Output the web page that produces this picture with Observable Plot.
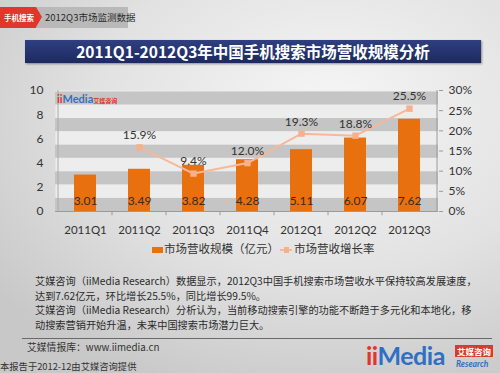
<!DOCTYPE html>
<html>
<head>
<meta charset="utf-8">
<script src="https://cdn.jsdelivr.net/npm/d3@7"></script>
<script src="https://cdn.jsdelivr.net/npm/@observablehq/plot@0.6"></script>
<style>
  html, body { margin: 0; padding: 0; }
  #wrap { position: relative; width: 500px; height: 373px; overflow: hidden;
    background: radial-gradient(ellipse 420px 300px at 330px 110px, #f6f6f6 0%, #e2e2e2 55%, #c8c8c8 100%);
    font-family: "Noto Sans CJK SC", sans-serif; }
  .abs { position: absolute; white-space: nowrap; }
  #tag { left: 0; top: 7px; width: 36px; height: 21px; background: #e0362c; color: #fff;
    font-size: 7.5px; font-weight: bold; line-height: 21px; padding-left: 4px; box-sizing: border-box; }
  #tagArrow { left: 36px; top: 7px; width: 0; height: 0; border-top: 10.5px solid transparent;
    border-bottom: 10.5px solid transparent; border-left: 6px solid #e0362c; }
  #tagBox { left: 36px; top: 7px; width: 92px; height: 21px; background: #b9b9b9; color: #2a2a2a;
    font-size: 9.5px; line-height: 21px; padding-left: 9px; box-sizing: border-box; }
  #title { left: 25px; top: 40px; width: 456px; height: 23px;
    background: linear-gradient(180deg, #2f3f80 0%, #1c2a5e 100%); color: #fff;
    font-size: 15.5px; font-weight: bold; line-height: 23px; text-align: center;
    box-shadow: 1px 1px 2px rgba(0,0,0,0.4); }
  #chart { left: 0; top: 0; }
  .leg { font-size: 11.5px; color: #333; top: 240px; line-height: 16px; }
  #para { left: 35px; top: 274px; font-size: 10.2px; line-height: 14.6px; color: #2b2b2b; }
  #sep { left: 22px; top: 338px; width: 470px; height: 1px; background: #6a6a6a; }
  #src { left: 27px; top: 340px; font-size: 9.8px; color: #333; line-height: 15px; }
  #rep { left: 0; top: 360px; font-size: 9.3px; color: #333; line-height: 12px; }
  #logo1 { left: 57px; top: 92px; font: bold 11px Lato, sans-serif; color: #3a6fbf; }
  #logo2 { left: 366px; top: 340px; font: bold 25px/30px Lato, sans-serif; color: #2f6fc4; letter-spacing: -0.5px; }
  #logo3 { left: 455px; top: 345px; font-size: 8.5px; font-weight: bold; color: #fff; background: #d83a2e; padding: 0 2px; line-height: 12px; }
  #logo4 { left: 456px; top: 359px; font: italic bold 8.5px/11px Lato, sans-serif; color: #2f6fc4; }
</style>
</head>
<body>
<div id="wrap">
  <div class="abs" id="tag">手机搜索</div>
  <div class="abs" id="tagBox">2012Q3市场监测数据</div>
  <div class="abs" id="tagArrow"></div>
  <div class="abs" id="title">2011Q1-2012Q3年中国手机搜索市场营收规模分析</div>
  <div class="abs" id="chart"></div>
  <div class="abs" id="logo1"><span style="color:#e0362c">ii</span>Media<span style="font-size:6px;color:#e0362c;font-family:'Noto Sans CJK SC'">艾媒咨询</span></div>
  <div class="abs leg" style="left:152px;"><span style="display:inline-block;width:11px;height:6px;background:#e8700e;vertical-align:middle;margin-right:1px;"></span>市场营收规模（亿元）</div>
  <div class="abs leg" style="left:280px;"><span style="display:inline-block;position:relative;width:12px;height:8px;vertical-align:middle;margin-right:2px;"><span style="position:absolute;left:0;top:3px;width:12px;height:2px;background:#f7b89a;"></span><span style="position:absolute;left:3.5px;top:1px;width:5px;height:6px;background:#f5b08c;"></span></span>市场营收增长率</div>
  <div class="abs" id="para">艾媒咨询（iiMedia Research）数据显示，2012Q3中国手机搜索市场营收水平保持较高发展速度，<br>达到7.62亿元，环比增长25.5%，同比增长99.5%。<br>艾媒咨询（iiMedia Research）分析认为，当前移动搜索引擎的功能不断趋于多元化和本地化，移<br>动搜索营销开始升温，未来中国搜索市场潜力巨大。</div>
  <div class="abs" id="sep"></div>
  <div class="abs" id="src">艾媒情报库：www.iimedia.cn</div>
  <div class="abs" id="rep">本报告于2012-12由艾媒咨询提供</div>
  <div class="abs" id="logo2"><span style="color:#e0362c">ii</span>Media</div>
  <div class="abs" id="logo3">艾媒咨询</div>
  <div class="abs" id="logo4">Research</div>
</div>
<script>
// ---- data ----
const quarters = ["2011Q1", "2011Q2", "2011Q3", "2011Q4", "2012Q1", "2012Q2", "2012Q3"];
const revenue = [3.01, 3.49, 3.82, 4.28, 5.11, 6.07, 7.62];          // 亿元
const growth = [null, 15.9, 9.4, 12.0, 19.3, 18.8, 25.5];            // %
const leftTicks = [0, 2, 4, 6, 8, 10];
const rightTicks = [0, 5, 10, 15, 20, 25, 30];

const bars = quarters.map((q, i) => ({q, v: revenue[i]}));
const rate = quarters.map((q, i) => ({q, g: growth[i]})).filter(d => d.g != null);
const pctToY = p => p / 3;  // 30% maps onto 10 on the left axis

// decorative stripes in the plot background
const stripeStep = 2.2, stripeH = 1.08;
const stripes = d3.range(0, 10, stripeStep);

const font = "Lato, 'Noto Sans CJK SC', sans-serif";

const chart = Plot.plot({
  width: 500,
  height: 260,
  marginTop: 90,
  marginBottom: 49,
  marginLeft: 55,
  marginRight: 62,
  style: {background: "transparent", fontFamily: font, fontSize: "11px", color: "#333"},
  x: {domain: quarters, paddingInner: 0.6, paddingOuter: 0.3, axis: null},
  y: {domain: [0, 10], axis: null},
  marks: [
    Plot.frame({fill: "#ededed", stroke: null}),
    Plot.rect(stripes, {y1: d => d, y2: d => d + stripeH, fill: "#c5c5c5"}),
    Plot.ruleX([quarters[0]], {dx: -27.5, y1: 0, y2: 10, stroke: "#aaa"}),
    Plot.barY(bars, {x: "q", y: "v", fill: "#e8700e"}),
    Plot.text(bars, {x: "q", y: 0, text: d => d.v.toFixed(2), dy: -10, fill: "#3a2a1e", fontSize: 12}),
    Plot.line(rate, {x: "q", y: d => pctToY(d.g), stroke: "#f7b89a", strokeWidth: 2}),
    Plot.dot(rate, {x: "q", y: d => pctToY(d.g), symbol: "square", r: 3.6, fill: "#f5b08c", stroke: "none"}),
    Plot.text(rate, {x: "q", y: d => pctToY(d.g), text: d => d.g.toFixed(1) + "%", dy: -12, fill: "#333", fontSize: 12}),
    Plot.ruleY([0], {stroke: "#9a9a9a"}),
    Plot.ruleX(quarters.slice(1), {x: d => d, dx: -27.5, y1: 0, y2: -0.35, stroke: "#9a9a9a"}),
    Plot.axisX({tickSize: 0, tickPadding: 14, fontSize: 11.5, fill: "#333", label: null}),
    Plot.axisY({ticks: leftTicks, tickSize: 0, tickPadding: 12, fontSize: 12, fill: "#333", label: null}),
    Plot.ruleX([quarters[6]], {dx: 27.5, y1: 0, y2: 10, stroke: "#9a9a9a"}),
    Plot.axisY(rightTicks.map(pctToY), {anchor: "right", tickFormat: d => Math.round(d * 3) + "%",
      tickSize: 4, tickPadding: 6, stroke: "#9a9a9a", fontSize: 12, fill: "#333", label: null})
  ]
});
document.getElementById("chart").appendChild(chart);
</script>
</body>
</html>
